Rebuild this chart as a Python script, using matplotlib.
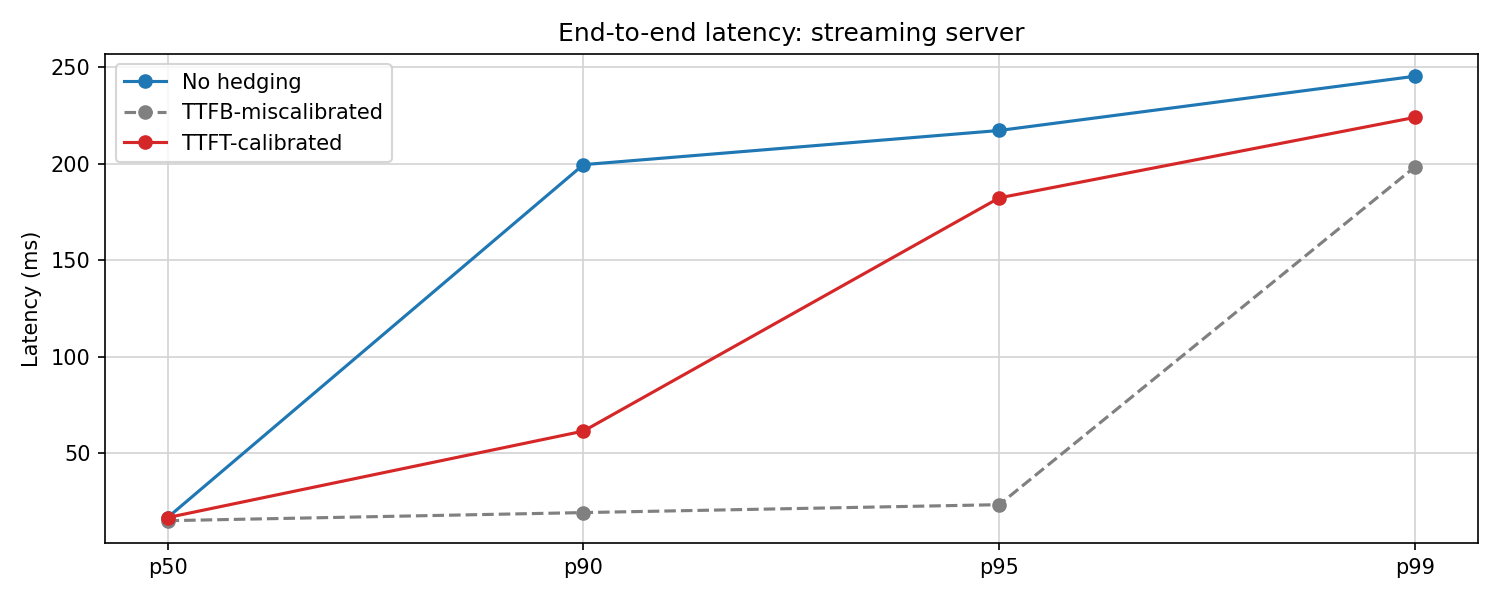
import numpy as np
import matplotlib.pyplot as plt

percentiles = ["p50", "p90", "p95", "p99"]
no_hedging = [16.7, 199.5, 217.2, 245.3]
ttfb_miscal = [15.1, 19.3, 23.4, 198.4]
ttft_cal = [16.7, 61.5, 182.3, 224.0]

fig, ax = plt.subplots(figsize=(10, 4), dpi=150)
x = np.arange(len(percentiles))

ax.plot(x, no_hedging, marker="o", color="#1f77b4", label="No hedging")
ax.plot(x, ttfb_miscal, marker="o", linestyle="--", color="gray", label="TTFB-miscalibrated")
ax.plot(x, ttft_cal, marker="o", color="#d62728", label="TTFT-calibrated")

ax.set_xticks(x)
ax.set_xticklabels(percentiles)
ax.set_ylabel("Latency (ms)")
ax.set_title("End-to-end latency: streaming server")
ax.grid(True, color="#d3d3d3")
ax.set_axisbelow(True)
ax.legend(loc="upper left")

fig.tight_layout()
fig.savefig("out.png")
